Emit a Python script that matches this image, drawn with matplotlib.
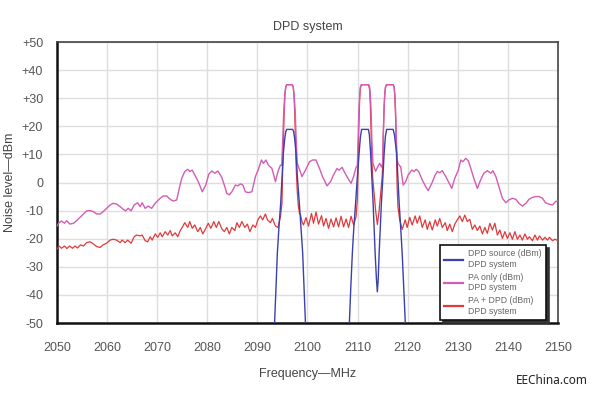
import numpy as np
import matplotlib
matplotlib.use("Agg")
import matplotlib.pyplot as plt

# (frequency MHz, level dBm)
PA_ONLY = [
    (2050.0, -15.5), (2050.4, -14.3), (2050.9, -13.7), (2051.5, -14.5), (2051.9, -13.6),
    (2052.6, -14.8), (2053.3, -14.5), (2053.9, -13.6), (2054.6, -12.4), (2055.3, -11.2),
    (2055.9, -10.1), (2056.6, -10.0), (2057.3, -10.4), (2057.9, -11.2), (2058.6, -11.2),
    (2059.2, -10.4), (2059.9, -9.2), (2060.6, -8.0), (2061.2, -7.4), (2061.9, -7.7),
    (2062.6, -8.6), (2063.2, -9.5), (2063.7, -10.1), (2064.2, -9.2), (2064.8, -10.1),
    (2065.4, -8.0), (2066.1, -7.2), (2066.6, -8.6), (2067.0, -7.2), (2067.6, -9.2),
    (2068.2, -8.4), (2068.9, -9.2), (2069.6, -7.4), (2070.6, -5.6), (2071.2, -4.8),
    (2071.9, -4.8), (2072.6, -6.0), (2073.2, -6.6), (2073.9, -6.2), (2074.4, -2.1),
    (2074.9, 1.5), (2075.5, 3.9), (2076.1, 4.7), (2076.5, 3.9), (2077.0, 4.4),
    (2077.5, 2.7), (2078.2, 0.3), (2079.0, -3.3), (2079.7, -0.9), (2080.3, 3.0),
    (2080.9, 4.1), (2081.5, 3.3), (2082.1, 4.1), (2082.9, 1.8), (2083.5, -1.5),
    (2083.9, -3.9), (2084.4, -4.4), (2084.9, -3.3), (2085.6, -0.9), (2086.1, -1.2),
    (2086.6, -0.5), (2087.1, -0.9), (2087.6, -3.3), (2088.2, -3.6), (2088.9, -3.3),
    (2089.6, 2.1), (2090.2, 4.7), (2090.8, 8.0), (2091.2, 6.8), (2091.7, 8.0),
    (2092.2, 6.2), (2092.9, 5.0), (2093.6, 0.3), (2094.1, 3.9), (2094.6, 6.2),
    (2094.85, 6.0), (2095.05, 15), (2095.25, 25), (2095.45, 31), (2095.65, 34),
    (2095.85, 34.8), (2096.95, 34.8), (2097.15, 34), (2097.35, 31), (2097.55, 25),
    (2097.75, 15), (2097.95, 7), (2098.2, 5.6), (2098.9, 2.1), (2099.6, 4.4),
    (2100.4, 7.4), (2101.0, 8.0), (2101.7, 8.0), (2102.4, 5.0), (2103.0, 2.1),
    (2103.9, -1.2), (2104.6, 0.3), (2105.2, 2.7), (2105.9, 5.0), (2106.3, 4.4),
    (2106.9, 5.4), (2107.5, 3.3), (2108.2, 1.1), (2108.7, -0.3), (2109.2, 2.1),
    (2109.7, 5.4), (2109.95, 6), (2110.1, 15), (2110.25, 25), (2110.4, 31),
    (2110.55, 34), (2110.75, 34.8), (2112.2, 34.8), (2112.4, 34), (2112.55, 31),
    (2112.7, 25), (2112.85, 15), (2113.05, 7), (2113.3, 5.5), (2113.6, 4.0),
    (2114.0, 5.5), (2114.4, 6.8), (2114.8, 5.5), (2115.0, 7), (2115.1, 15),
    (2115.25, 25), (2115.4, 31), (2115.55, 34), (2115.75, 34.8), (2117.1, 34.8),
    (2117.3, 34), (2117.45, 31), (2117.6, 25), (2117.75, 15), (2117.9, 8),
    (2118.1, 6.6), (2118.6, 5.6), (2119.1, -0.9), (2119.6, 0.3), (2120.1, 2.7),
    (2120.8, 4.4), (2121.3, 3.9), (2121.7, 4.7), (2122.2, 3.9), (2122.9, 0.9),
    (2123.6, -1.5), (2124.1, -2.9), (2124.8, -0.3), (2125.5, 2.7), (2125.9, 3.9),
    (2126.4, 3.5), (2126.9, 4.2), (2127.6, 2.1), (2128.2, 0.0), (2128.8, -2.1),
    (2129.4, 1.5), (2130.1, 4.4), (2130.6, 8.0), (2131.0, 7.4), (2131.6, 8.6),
    (2132.1, 7.7), (2132.6, 5.0), (2133.2, 1.5), (2133.9, -2.1), (2134.6, 1.1),
    (2135.2, 3.3), (2135.9, 4.2), (2136.6, 3.3), (2137.0, 4.2), (2137.6, 2.1),
    (2138.2, -1.5), (2138.9, -5.6), (2139.6, -7.2), (2140.2, -6.2), (2140.9, -5.6),
    (2141.6, -6.0), (2142.2, -7.4), (2142.9, -8.4), (2143.6, -7.4), (2144.2, -6.0),
    (2144.9, -5.3), (2145.5, -5.0), (2146.2, -5.0), (2146.9, -5.6), (2147.5, -7.2),
    (2148.2, -7.7), (2148.9, -8.0), (2149.5, -6.8), (2150.0, -6.5),
]

PA_DPD = [
    (2050.0, -23.8), (2050.4, -22.6), (2050.9, -23.4), (2051.5, -22.6), (2052.0, -23.5),
    (2052.5, -22.6), (2053.1, -23.4), (2053.6, -22.6), (2054.1, -23.3), (2054.7, -22.2),
    (2055.3, -22.6), (2055.9, -21.4), (2056.6, -21.1), (2057.3, -21.9), (2057.9, -22.8),
    (2058.6, -23.1), (2059.2, -22.2), (2059.9, -21.6), (2060.6, -20.5), (2061.2, -20.2),
    (2061.9, -20.5), (2062.6, -21.4), (2063.0, -20.5), (2063.6, -21.4), (2064.1, -20.5),
    (2064.8, -21.6), (2065.4, -19.3), (2065.9, -18.7), (2066.6, -19.0), (2067.0, -18.7),
    (2067.6, -20.7), (2068.1, -21.1), (2068.6, -19.3), (2069.0, -20.5), (2069.6, -18.3),
    (2070.1, -19.5), (2070.6, -17.9), (2071.0, -19.3), (2071.6, -17.5), (2072.1, -18.7),
    (2072.6, -17.1), (2073.0, -19.0), (2073.6, -17.9), (2074.1, -19.3), (2074.6, -17.1),
    (2075.0, -16.0), (2075.5, -14.3), (2076.1, -16.0), (2076.5, -13.9), (2077.0, -16.3),
    (2077.5, -15.1), (2078.1, -17.5), (2078.6, -16.0), (2079.1, -18.3), (2079.7, -16.3),
    (2080.2, -14.5), (2080.7, -16.3), (2081.3, -13.9), (2081.8, -16.0), (2082.3, -13.9),
    (2082.9, -16.5), (2083.4, -17.5), (2083.9, -16.0), (2084.4, -18.3), (2084.9, -16.0),
    (2085.5, -17.1), (2085.9, -14.3), (2086.4, -16.0), (2086.9, -13.9), (2087.5, -16.0),
    (2088.0, -14.8), (2088.5, -17.5), (2089.1, -15.1), (2089.6, -16.0), (2090.1, -13.3),
    (2090.6, -11.9), (2091.05, -13.3), (2091.6, -11.2), (2092.0, -13.3), (2092.6, -14.3),
    (2093.0, -12.8), (2093.6, -15.5), (2094.1, -16.0), (2094.6, -12.2), (2094.9, -7.4),
    (2095.05, 5), (2095.2, 15), (2095.35, 25), (2095.5, 31), (2095.65, 34),
    (2095.85, 34.8), (2096.95, 34.8), (2097.15, 34), (2097.3, 31), (2097.45, 25),
    (2097.6, 15), (2097.75, 5), (2097.95, -3), (2098.15, -8), (2098.4, -11.0),
    (2098.6, -11.5), (2098.9, -14.0), (2099.2, -15.1), (2099.7, -12.5), (2100.2, -15.5),
    (2100.8, -11.0), (2101.2, -14.5), (2101.7, -10.5), (2102.2, -14.8), (2102.8, -11.8),
    (2103.2, -15.5), (2103.7, -12.8), (2104.2, -16.3), (2104.7, -13.0), (2105.2, -15.8),
    (2105.7, -12.6), (2106.2, -15.8), (2106.7, -12.0), (2107.2, -15.8), (2107.7, -13.0),
    (2108.2, -16.0), (2108.7, -12.0), (2109.2, -15.1), (2109.7, -12.2), (2109.95, -6),
    (2110.1, 5), (2110.25, 20), (2110.4, 29), (2110.55, 33.5), (2110.75, 34.8),
    (2112.2, 34.8), (2112.4, 33), (2112.55, 27), (2112.7, 18), (2112.85, 8),
    (2113.0, 2), (2113.3, -4), (2113.6, -10), (2113.95, -15), (2114.3, -10),
    (2114.6, -4), (2114.9, 2), (2115.05, 8), (2115.15, 18), (2115.3, 27),
    (2115.45, 32), (2115.6, 34), (2115.8, 34.8), (2117.1, 34.8), (2117.3, 34),
    (2117.45, 30), (2117.6, 22), (2117.75, 10), (2117.9, -2), (2118.05, -8.6),
    (2118.4, -13.3), (2118.9, -16.7), (2119.5, -13.3), (2119.9, -16.0), (2120.4, -12.4),
    (2120.9, -15.1), (2121.5, -11.9), (2121.9, -14.5), (2122.4, -11.9), (2122.9, -16.0),
    (2123.5, -13.3), (2123.9, -16.7), (2124.4, -13.9), (2124.9, -16.9), (2125.5, -13.3),
    (2125.9, -15.5), (2126.4, -12.8), (2126.9, -16.0), (2127.5, -14.3), (2127.9, -17.1),
    (2128.4, -14.8), (2128.9, -17.5), (2129.4, -14.8), (2129.9, -13.3), (2130.4, -11.9),
    (2130.9, -13.9), (2131.4, -11.6), (2131.9, -13.9), (2132.4, -13.1), (2132.9, -16.7),
    (2133.4, -15.1), (2133.9, -17.1), (2134.4, -15.5), (2134.9, -18.3), (2135.4, -16.0),
    (2135.9, -18.1), (2136.4, -14.5), (2136.9, -16.9), (2137.4, -14.5), (2137.9, -18.7),
    (2138.4, -16.9), (2138.9, -19.9), (2139.4, -17.5), (2139.9, -19.9), (2140.4, -17.9),
    (2140.9, -20.2), (2141.4, -17.5), (2141.9, -20.2), (2142.4, -18.7), (2142.9, -20.5),
    (2143.4, -18.3), (2143.9, -20.2), (2144.3, -19.3), (2144.9, -20.7), (2145.4, -18.7),
    (2145.9, -20.5), (2146.3, -19.0), (2146.9, -20.5), (2147.4, -19.5), (2147.9, -20.5),
    (2148.3, -19.5), (2148.9, -20.7), (2149.4, -20.2), (2150.0, -20.7),
]

DPD_SOURCE = [
    (2093.3, -60), (2093.45, -49), (2093.7, -38), (2093.98, -25.2), (2094.3, -16),
    (2094.65, -7.4), (2094.95, 3), (2095.18, 10.4), (2095.45, 15.5), (2095.65, 18),
    (2095.85, 18.9), (2097.05, 18.9), (2097.25, 18), (2097.45, 15.5), (2097.71, 10.4),
    (2098.0, 1.5), (2098.37, -7.4), (2098.7, -16), (2099.04, -25.2), (2099.3, -37),
    (2099.57, -49), (2099.7, -60),
    (2108.25, -60), (2108.38, -49), (2108.65, -37), (2108.95, -25.2), (2109.25, -16),
    (2109.6, -7.4), (2109.95, 2), (2110.3, 10.4), (2110.55, 16), (2110.8, 18.9),
    (2112.15, 18.9), (2112.35, 17), (2112.6, 10.4), (2112.85, 1.5), (2113.1, -7.4),
    (2113.5, -25.2), (2113.75, -34), (2113.94, -38.9), (2114.1, -35), (2114.3, -25.2),
    (2114.75, -7.4), (2115.05, 2), (2115.3, 10.4), (2115.55, 16.5), (2115.8, 18.9),
    (2117.1, 18.9), (2117.35, 17), (2117.8, 10.4), (2118.05, 1.5), (2118.3, -7.4),
    (2118.6, -16), (2118.9, -25.2), (2119.2, -37), (2119.5, -49), (2119.65, -60),
]

x_ticks = list(range(2050, 2151, 10))
y_ticks = list(range(-50, 51, 10))
y_labels = [f"+{v}" if v > 0 else str(v) for v in y_ticks]

plt.rcParams["font.family"] = ["Liberation Sans", "DejaVu Sans"]

fig = plt.figure(figsize=(5.95, 3.94), dpi=100)
ax = fig.add_axes([0.0958, 0.1802, 0.842, 0.7132])

src = np.array(DPD_SOURCE)
pa = np.array(PA_ONLY)
dpd = np.array(PA_DPD)
ax.plot(dpd[:, 0], dpd[:, 1], color="#e03a3c", lw=0.9, label="PA + DPD (dBm)\nDPD system", zorder=3)
ax.plot(pa[:, 0], pa[:, 1], color="#d45cb4", lw=1.0, label="PA only (dBm)\nDPD system", zorder=3)
ax.plot(src[:, 0], src[:, 1], color="#3c3fae", lw=1.0, label="DPD source (dBm)\nDPD system", zorder=4)

ax.set_xlim(2050, 2150)
ax.set_ylim(-50, 50)
ax.set_xticks(x_ticks)
ax.set_yticks(y_ticks)
ax.set_yticklabels(y_labels)
ax.tick_params(length=0, labelsize=9, labelcolor="#555555")
ax.tick_params(axis="y", pad=10)
ax.tick_params(axis="x", pad=14)
ax.grid(True, color="#dedede", lw=1.0)
ax.set_axisbelow(True)

for side in ("top", "right"):
    ax.spines[side].set_color("#444444")
    ax.spines[side].set_linewidth(1.2)
for side in ("left", "bottom"):
    ax.spines[side].set_color("#111111")
    ax.spines[side].set_linewidth(1.8)

ax.set_title("DPD system", fontsize=9, color="#444444", pad=9)
ax.set_xlabel("Frequency\u2014MHz", fontsize=9, color="#444444", labelpad=10)
ax.set_ylabel("Noise level\u2014dBm", fontsize=9, color="#444444")
ax.yaxis.set_label_coords(-0.081, 0.5)

handles, labels = ax.get_legend_handles_labels()
order = [2, 1, 0]
leg = ax.legend([handles[i] for i in order], [labels[i] for i in order],
                loc="lower left", bbox_to_anchor=(0.764, 0.011), borderaxespad=0,
                fontsize=6.3, labelcolor="#666666", frameon=True, fancybox=False,
                edgecolor="#111111", handlelength=2.1, handletextpad=0.6,
                labelspacing=0.45, borderpad=0.5,
                shadow={"color": "#333333", "alpha": 1.0})
leg.get_frame().set_linewidth(1.2)
for line in leg.get_lines():
    line.set_linewidth(1.6)

fig.text(0.988, 0.033, "EEChina.com", ha="right", va="center", fontsize=8.5,
         color="#222222", family=["Noto Sans", "DejaVu Sans"])

fig.savefig("out.png", dpi=100)
